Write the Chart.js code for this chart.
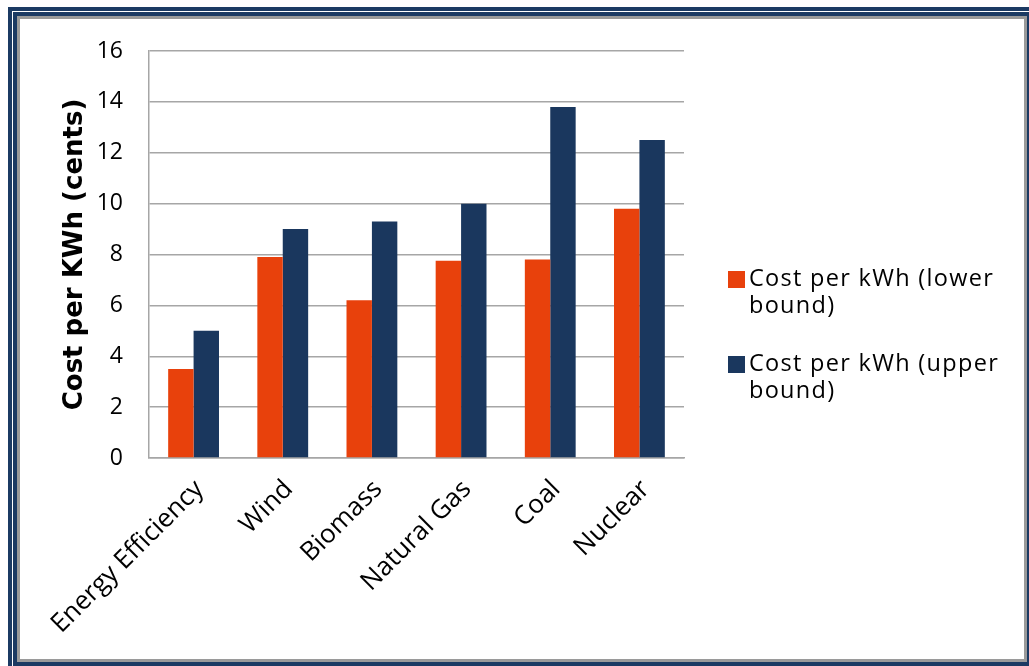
<!DOCTYPE html>
<html>
<head>
<meta charset="utf-8">
<script src="https://cdn.jsdelivr.net/npm/chart.js@4.4.1/dist/chart.umd.min.js"></script>
<style>
  html, body { margin: 0; padding: 0; background: #fff; }
  body { width: 1029px; height: 666px; position: relative; overflow: hidden; }
  .frame {
    position: absolute; left: 8px; top: 7px; width: 1028px; height: 664px;
    box-sizing: border-box; background: #1b3a63; padding: 4px;
  }
  .frame .f2 { width: 100%; height: 100%; box-sizing: border-box; border: 1px solid #fff; }
  .frame .f3 { width: 100%; height: 100%; box-sizing: border-box; border: 4px solid #1b3a63; }
  .frame .f4 { width: 100%; height: 100%; box-sizing: border-box; border: 3px solid #9a9a9a; background: #fff; }
  #wrap { position: absolute; left: 20px; top: 19px; width: 1004px; height: 641px; }
  #legend {
    position: absolute; left: 728px; top: 264px; width: 292px;
    font-family: "Open Sans", sans-serif; font-size: 23.5px; letter-spacing: 1.3px;
    line-height: 27px; color: #000;
  }
  .item { display: flex; align-items: flex-start; margin-bottom: 31px; }
  .sw { width: 17px; height: 17px; flex: none; margin-top: 7px; margin-right: 4px; }
</style>
</head>
<body>
<div class="frame"><div class="f2"><div class="f3"><div class="f4"></div></div></div></div>
<div id="wrap"><canvas id="myChart" width="1004" height="641"></canvas></div>
<div id="legend"></div>
<script>
let categories = ["Energy Efficiency", "Wind", "Biomass", "Natural Gas", "Coal", "Nuclear"]
let lowerBound = [3.5, 7.9, 6.2, 7.75, 7.8, 9.8]
let upperBound = [5.0, 9.0, 9.3, 10.0, 13.8, 12.5]
let seriesNames = ["Cost per kWh (lower bound)", "Cost per kWh (upper bound)"]
let yTicks = [0, 2, 4, 6, 8, 10, 12, 14, 16]

let orange = "#e8410c"
let navy = "#1a375e"
let gridGray = "#a6a6a6"
let font = "'Open Sans', sans-serif"

let ctx = document.querySelector("#myChart").getContext("2d")

let chart = new Chart(ctx, {
    type: "bar",
    data: {
        labels: categories,
        datasets: [{
            label: seriesNames[0],
            data: lowerBound,
            backgroundColor: orange
        }, {
            label: seriesNames[1],
            data: upperBound,
            backgroundColor: navy
        }]
    },
    options: {
        responsive: false,
        animation: false,
        layout: {
            padding: { top: 32, right: 340, bottom: 0, left: 0 }
        },
        datasets: {
            bar: { barPercentage: 1, categoryPercentage: 0.57 }
        },
        plugins: {
            legend: { display: false },
            tooltip: { enabled: false }
        },
        scales: {
            x: {
                grid: { display: false },
                border: { display: true, color: gridGray, width: 1.5 },
                ticks: {
                    color: "#000",
                    font: { family: font, size: 26 },
                    maxRotation: 45,
                    minRotation: 45,
                    padding: 8,
                    labelOffset: 6,
                    autoSkip: false
                },
                afterFit: (scale) => { scale.height = 202 }
            },
            y: {
                min: yTicks[0],
                max: yTicks[yTicks.length - 1],
                afterBuildTicks: (scale) => { scale.ticks = yTicks.map(v => ({ value: v })) },
                grid: { color: gridGray, lineWidth: 1.5, drawTicks: false },
                border: { display: true, color: gridGray, width: 1.5 },
                ticks: {
                    color: "#000",
                    font: { family: font, size: 23 },
                    padding: 26
                },
                title: {
                    display: true,
                    text: "Cost per KWh (cents)",
                    color: "#000",
                    font: { family: "'DejaVu Sans', sans-serif", size: 26, weight: "bold" },
                    padding: { top: 40, bottom: 0 }
                },
                afterFit: (scale) => {
                    scale.width = 129
                    // tick padding would otherwise push the plot down
                    scale.paddingTop = 0
                    scale.paddingBottom = 0
                }
            }
        }
    }
})

// legend drawn as html so the labels can wrap like the original
let legendBox = document.querySelector("#legend")
chart.data.datasets.forEach(ds => {
    let item = document.createElement("div")
    item.className = "item"
    let sw = document.createElement("span")
    sw.className = "sw"
    sw.style.background = ds.backgroundColor
    let txt = document.createElement("span")
    txt.textContent = ds.label
    item.appendChild(sw)
    item.appendChild(txt)
    legendBox.appendChild(item)
})
</script>
</body>
</html>
